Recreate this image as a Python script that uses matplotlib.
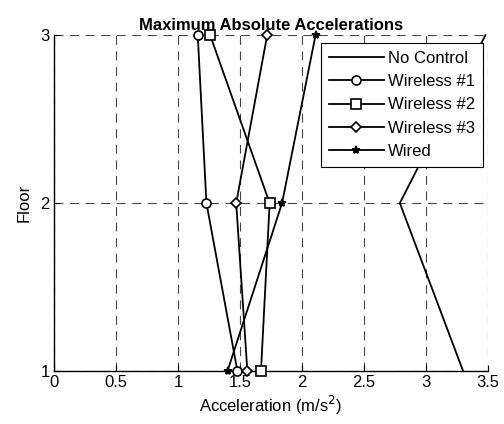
import matplotlib
matplotlib.use("Agg")
import matplotlib.pyplot as plt

plt.rcParams["font.family"] = ["Liberation Sans", "DejaVu Sans"]

floors = [1, 2, 3]
no_control = [3.30, 2.79, 3.48]
wireless_1 = [1.48, 1.23, 1.16]
wireless_2 = [1.67, 1.74, 1.26]
wireless_3 = [1.56, 1.47, 1.72]
wired = [1.40, 1.84, 2.11]

series = [
    ("No Control", no_control, "None"),
    ("Wireless #1", wireless_1, "o"),
    ("Wireless #2", wireless_2, "s"),
    ("Wireless #3", wireless_3, "D"),
    ("Wired", wired, "*"),
]

fig = plt.figure(figsize=(5.04, 4.24), dpi=100)
ax = fig.add_axes([0.107, 0.125, 0.861, 0.792])

for label, vals, mk in series:
    ms = 6.5 if mk in ("o", "s") else 6
    if mk == "D":
        ms = 5.5
    ax.plot(vals, floors, color="black", lw=1.3, marker=mk, markersize=ms,
            markerfacecolor="black" if mk == "*" else "white",
            markeredgecolor="black", markeredgewidth=1.2, label=label,
            clip_on=False, zorder=3)

ax.set_xlim(0, 3.5)
ax.set_ylim(1, 3)
ax.set_xticks([0, 0.5, 1, 1.5, 2, 2.5, 3, 3.5])
ax.set_xticklabels(["0", "0.5", "1", "1.5", "2", "2.5", "3", "3.5"])
ax.set_yticks([1, 2, 3])
ax.tick_params(direction="in", labelsize=12, length=4, pad=3)
ax.grid(True, color="#444444", linestyle=(0, (8, 6)), linewidth=0.8)
for side in ("top", "right"):
    ax.spines[side].set_visible(False)
ax.spines["left"].set_linewidth(1)
ax.spines["bottom"].set_linewidth(1)

ax.set_xlabel("Acceleration (m/s$^2$)", fontsize=12, labelpad=3)
ax.set_ylabel("Floor", fontsize=12, labelpad=6)
ax.set_title("Maximum Absolute Accelerations", fontsize=12, fontweight="bold", pad=4)

leg = ax.legend(loc="upper right", bbox_to_anchor=(0.988, 0.976), borderaxespad=0,
                fontsize=12, frameon=True, fancybox=False, framealpha=1,
                edgecolor="black", handlelength=3.3, borderpad=0.45,
                labelspacing=0.5, handletextpad=0.25)
leg.get_frame().set_linewidth(0.8)

fig.savefig("out.png", dpi=100)
